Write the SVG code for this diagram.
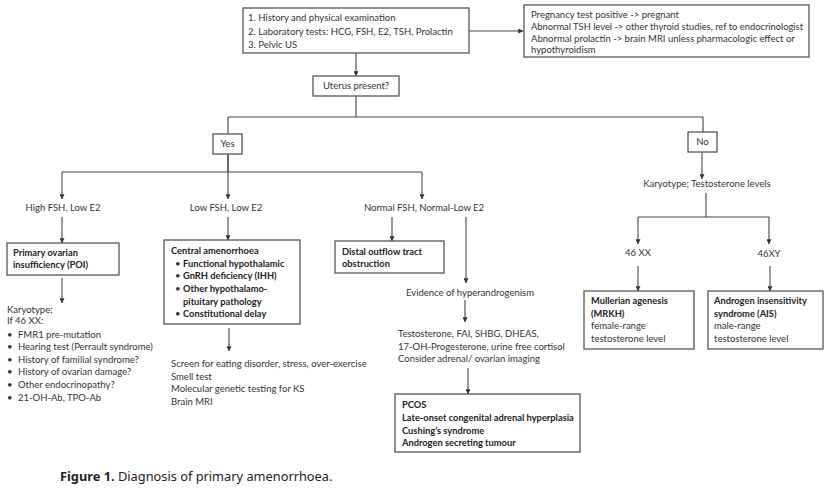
<svg xmlns="http://www.w3.org/2000/svg" width="830" height="494" viewBox="0 0 830 494">
<defs>
<marker id="ah" viewBox="0 0 8 8" refX="7.5" refY="4" markerWidth="5" markerHeight="5" orient="auto" markerUnits="userSpaceOnUse">
<path d="M0,0 L8,4 L0,8 z" fill="#333"/>
</marker>
<style>
.box{fill:#fff;stroke:#555;stroke-width:1.3}
.t{font-family:Lato,"Open Sans",sans-serif;font-size:9.5px;fill:#333}
.b{font-weight:bold;fill:#222;font-size:9.3px}
.c{text-anchor:middle}
.ln{fill:none;stroke:#444;stroke-width:1.1}
.ar{fill:none;stroke:#444;stroke-width:1.1;marker-end:url(#ah)}
</style>
</defs>
<rect width="830" height="494" fill="#fff"/>
<g id="connectors">
<path class="ar" d="M469,31 H523"/>
<path class="ar" d="M356,53 V76"/>
<path class="ln" d="M356,96 V117 M228,117 H703 M228,117 V134 M703,117 V132"/>
<path class="ln" d="M228,154 V172 M62,172 H422"/>
<path class="ar" d="M62,172 V199"/>
<path class="ar" d="M228,154 V199"/>
<path class="ar" d="M422,172 V199"/>
<path class="ar" d="M62,217 V243"/>
<path class="ar" d="M228,217 V240"/>
<path class="ar" d="M392,217 V241"/>
<path class="ar" d="M466,217 V283"/>
<path class="ar" d="M62,278 V303"/>
<path class="ar" d="M229,328 V351"/>
<path class="ar" d="M465,300 V322"/>
<path class="ar" d="M468,368 V394"/>
<path class="ar" d="M702,152 V179"/>
<path class="ln" d="M706,193 V217 M638,217 H769"/>
<path class="ar" d="M638,217 V244"/>
<path class="ar" d="M769,217 V244"/>
<path class="ar" d="M638,266 V291"/>
<path class="ar" d="M770,266 V291"/>
</g>
<g id="start">
<rect class="box" x="243" y="8" width="226" height="45"/>
<text class="t" x="248" y="21">1. History and physical examination</text>
<text class="t" x="248" y="35">2. Laboratory tests: HCG, FSH, E2, TSH, Prolactin</text>
<text class="t" x="248" y="47.5">3. Pelvic US</text>
</g>
<g id="labresults">
<rect class="box" x="524" y="5" width="285" height="52"/>
<text class="t" x="531" y="18">Pregnancy test positive -&gt; pregnant</text>
<text class="t" x="531" y="29.5" textLength="272" lengthAdjust="spacingAndGlyphs">Abnormal TSH level -&gt; other thyroid studies, ref to endocrinologist</text>
<text class="t" x="531" y="41.5">Abnormal prolactin -&gt; brain MRI unless pharmacologic effect or</text>
<text class="t" x="531" y="53">hypothyroidism</text>
</g>
<g id="uterus">
<rect class="box" x="313" y="76" width="86" height="20"/>
<text class="t c" x="356" y="89">Uterus present?</text>
</g>
<g id="yes">
<rect class="box" x="213" y="134" width="29" height="20"/>
<text class="t c" x="227.5" y="147">Yes</text>
</g>
<g id="no">
<rect class="box" x="688" y="132" width="29" height="20"/>
<text class="t c" x="702.5" y="145">No</text>
</g>
<g id="highfsh"><text class="t c" x="63" y="211">High FSH, Low E2</text></g>
<g id="lowfsh"><text class="t c" x="226" y="211">Low FSH, Low E2</text></g>
<g id="normalfsh"><text class="t c" x="424" y="211">Normal FSH, Normal-Low E2</text></g>
<g id="poi">
<rect class="box" x="7" y="243" width="112" height="32"/>
<text class="t b" x="13" y="256">Primary ovarian</text>
<text class="t b" x="13" y="268">insufficiency (POI)</text>
</g>
<g id="poi-workup">
<text class="t" x="7" y="313">Karyotype;</text>
<text class="t" x="7" y="323.5">If 46 XX:</text>
<text class="t" x="7" y="337.5">•</text><text class="t" x="18" y="337.5">FMR1 pre-mutation</text>
<text class="t" x="7" y="350">•</text><text class="t" x="18" y="350">Hearing test (Perrault syndrome)</text>
<text class="t" x="7" y="362.5">•</text><text class="t" x="18" y="362.5">History of familial syndrome?</text>
<text class="t" x="7" y="375">•</text><text class="t" x="18" y="375">History of ovarian damage?</text>
<text class="t" x="7" y="387.5">•</text><text class="t" x="18" y="387.5">Other endocrinopathy?</text>
<text class="t" x="7" y="400.5">•</text><text class="t" x="18" y="400.5">21-OH-Ab, TPO-Ab</text>
</g>
<g id="central">
<rect class="box" x="164" y="240" width="136" height="84"/>
<text class="t b" x="171" y="254">Central amenorrhoea</text>
<text class="t" x="175" y="266.5">•</text><text class="t b" x="183" y="266.5">Functional hypothalamic</text>
<text class="t" x="175" y="279">•</text><text class="t b" x="183" y="279">GnRH deficiency (IHH)</text>
<text class="t" x="175" y="292">•</text><text class="t b" x="183" y="292">Other hypothalamo-</text>
<text class="t b" x="183" y="304.5">pituitary pathology</text>
<text class="t" x="175" y="317">•</text><text class="t b" x="183" y="317">Constitutional delay</text>
</g>
<g id="central-workup">
<text class="t" x="171" y="367">Screen for eating disorder, stress, over-exercise</text>
<text class="t" x="171" y="380">Smell test</text>
<text class="t" x="171" y="392">Molecular genetic testing for KS</text>
<text class="t" x="171" y="405">Brain MRI</text>
</g>
<g id="distal">
<rect class="box" x="335" y="241" width="109" height="32"/>
<text class="t b" x="342" y="255">Distal outflow tract</text>
<text class="t b" x="342" y="267">obstruction</text>
</g>
<g id="hyperandrogenism"><text class="t c" x="470" y="296">Evidence of hyperandrogenism</text></g>
<g id="androgen-tests">
<text class="t" x="398" y="337">Testosterone, FAI, SHBG, DHEAS,</text>
<text class="t" x="398" y="350">17-OH-Progesterone, urine free cortisol</text>
<text class="t" x="398" y="361.5">Consider adrenal/ ovarian imaging</text>
</g>
<g id="pcos">
<rect class="box" x="395" y="394" width="185" height="58"/>
<text class="t b" x="402" y="408">PCOS</text>
<text class="t b" x="402" y="421">Late-onset congenital adrenal hyperplasia</text>
<text class="t b" x="402" y="434">Cushing’s syndrome</text>
<text class="t b" x="402" y="446">Androgen secreting tumour</text>
</g>
<g id="karyotype"><text class="t c" x="707" y="187">Karyotype;  Testosterone levels</text></g>
<g id="xx"><text class="t c" x="638" y="256">46 XX</text></g>
<g id="xy"><text class="t c" x="769" y="257">46XY</text></g>
<g id="mrkh">
<rect class="box" x="584" y="291" width="110" height="58"/>
<text class="t b" x="591" y="304">Mullerian agenesis</text>
<text class="t b" x="591" y="316.5">(MRKH)</text>
<text class="t" x="591" y="329">female-range</text>
<text class="t" x="591" y="342">testosterone level</text>
</g>
<g id="ais">
<rect class="box" x="708" y="291" width="115" height="58"/>
<text class="t b" x="714" y="304">Androgen insensitivity</text>
<text class="t b" x="714" y="316.5">syndrome (AIS)</text>
<text class="t" x="714" y="329">male-range</text>
<text class="t" x="714" y="342">testosterone level</text>
</g>
<g id="caption">
<text x="60" y="481" style="font-family:'Noto Sans','Open Sans',sans-serif;font-size:12.8px;fill:#222"><tspan font-weight="bold">Figure 1.</tspan> Diagnosis of primary amenorrhoea.</text>
</g>
</svg>
